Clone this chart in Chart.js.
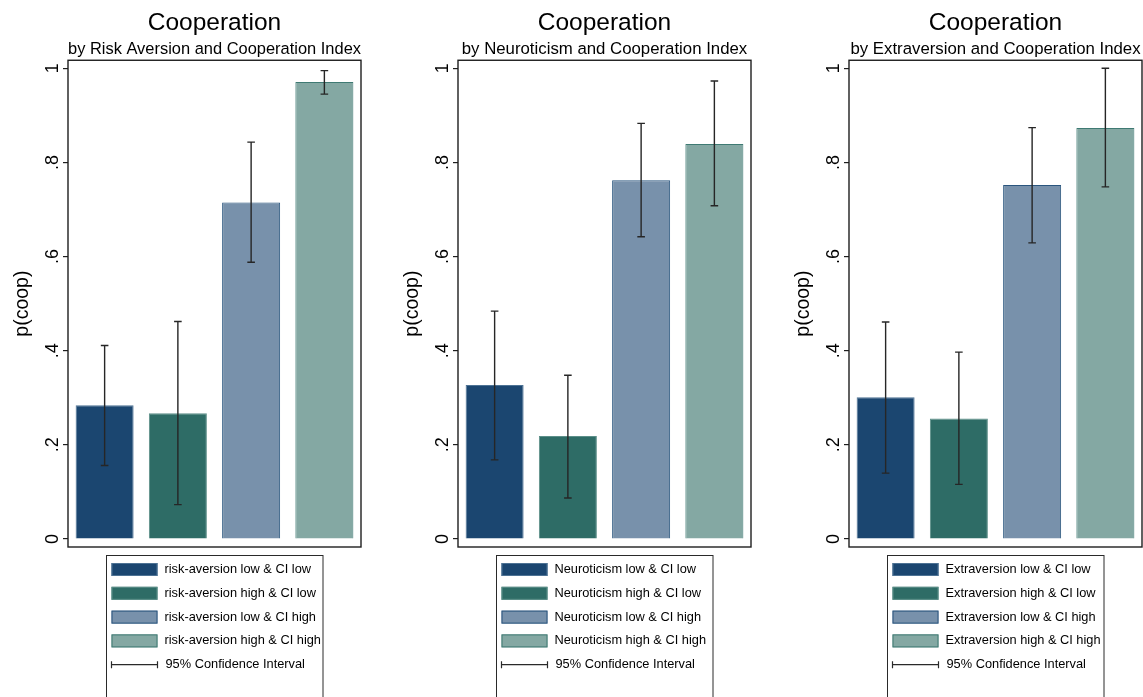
<!DOCTYPE html>
<html>
<head>
<meta charset="utf-8">
<script src="https://cdn.jsdelivr.net/npm/chart.js@4"></script>
<style>
  html, body { margin: 0; padding: 0; background: #fff; overflow: hidden; }
  body { width: 1143px; height: 697px; position: relative; }
  .panel { position: absolute; top: 0; width: 381px; height: 697px; }
  .panel canvas { display: block; }
</style>
</head>
<body>
<div class="panel" style="left:0px"><canvas id="c1" width="381" height="697"></canvas></div>
<div class="panel" style="left:390px"><canvas id="c2" width="381" height="697"></canvas></div>
<div class="panel" style="left:781px"><canvas id="c3" width="381" height="697"></canvas></div>
<script>
// ---- data ----
const tickValues = [0, 0.2, 0.4, 0.6, 0.8, 1];
const tickLabels = ["0", ".2", ".4", ".6", ".8", "1"];

const riskLabels = ["risk-aversion low & CI low", "risk-aversion high & CI low",
                    "risk-aversion low & CI high", "risk-aversion high & CI high"];
const riskMean = [0.284, 0.267, 0.715, 0.971];
const riskLow  = [0.156, 0.073, 0.588, 0.945];
const riskHigh = [0.411, 0.462, 0.843, 0.995];

const neuroLabels = ["Neuroticism low & CI low", "Neuroticism high & CI low",
                     "Neuroticism low & CI high", "Neuroticism high & CI high"];
const neuroMean = [0.327, 0.219, 0.762, 0.839];
const neuroLow  = [0.168, 0.087, 0.642, 0.708];
const neuroHigh = [0.484, 0.348, 0.883, 0.973];

const extraLabels = ["Extraversion low & CI low", "Extraversion high & CI low",
                     "Extraversion low & CI high", "Extraversion high & CI high"];
const extraMean = [0.301, 0.256, 0.752, 0.873];
const extraLow  = [0.140, 0.116, 0.629, 0.748];
const extraHigh = [0.461, 0.397, 0.874, 1.000];

const ciLabel = "95% Confidence Interval";

// ---- styling ----
const FONT = "'Liberation Sans', Arial, Helvetica, sans-serif";
const fills   = ["#1b4670", "#2e6c66", "#7891ab", "#84a8a3"];
const borders = ["#4d7294", "#5c8f89", "#2a557e", "#3f7a73"];

// Box around the plot region
const plotBox = {
  id: 'plotBox',
  afterDraw(chart) {
    const a = chart.chartArea, ctx = chart.ctx;
    ctx.save();
    ctx.strokeStyle = '#1e1e1e';
    ctx.lineWidth = 1.4;
    ctx.strokeRect(a.left, a.top, a.right - a.left, a.bottom - a.top);
    ctx.restore();
  }
};

// Rotated y tick labels
const yTickText = {
  id: 'yTickText',
  afterDraw(chart) {
    const y = chart.scales.y, ctx = chart.ctx;
    ctx.save();
    ctx.fillStyle = '#000';
    ctx.font = `18px ${FONT}`;
    ctx.textAlign = 'center';
    ctx.textBaseline = 'alphabetic';
    tickValues.forEach((v, i) => {
      ctx.save();
      ctx.translate(chart.chartArea.left - 10, y.getPixelForValue(v));
      ctx.rotate(-Math.PI / 2);
      ctx.fillText(tickLabels[i], 0, 0);
      ctx.restore();
    });
    ctx.restore();
  }
};

// Confidence interval whiskers
const ciBars = {
  id: 'ciBars',
  afterDatasetsDraw(chart) {
    const ds = chart.data.datasets[0];
    const meta = chart.getDatasetMeta(0);
    const y = chart.scales.y, ctx = chart.ctx;
    ctx.save();
    ctx.strokeStyle = '#262626';
    ctx.lineWidth = 1.4;
    meta.data.forEach((bar, i) => {
      const yl = y.getPixelForValue(ds.ciLow[i]);
      const yh = y.getPixelForValue(ds.ciHigh[i]);
      const x = bar.x, w = 3.8;
      ctx.beginPath();
      ctx.moveTo(x, yl); ctx.lineTo(x, yh);
      ctx.moveTo(x - w, yl); ctx.lineTo(x + w, yl);
      ctx.moveTo(x - w, yh); ctx.lineTo(x + w, yh);
      ctx.stroke();
    });
    ctx.restore();
  }
};

// Legend box underneath the plot
const legendBox = {
  id: 'legendBox',
  afterDraw(chart) {
    const a = chart.chartArea, ctx = chart.ctx;
    const cx = (a.left + a.right) / 2;
    const left = cx - 108, right = cx + 108.5;
    const top = a.bottom + 8.5;
    const labels = chart.data.labels;
    const ds = chart.data.datasets[0];
    ctx.save();
    ctx.strokeStyle = '#2a2a2a';
    ctx.lineWidth = 1;
    ctx.strokeRect(left, top, right - left, chart.height + 20 - top);
    ctx.font = `12.8px ${FONT}`;
    ctx.textBaseline = 'middle';
    ctx.textAlign = 'left';
    const step = 23.8;
    labels.forEach((lab, i) => {
      const yc = top + 14 + i * step;
      ctx.fillStyle = ds.backgroundColor[i];
      ctx.fillRect(left + 5, yc - 6.5, 46, 13);
      ctx.strokeStyle = ds.borderColor[i];
      ctx.lineWidth = 1;
      ctx.strokeRect(left + 5.5, yc - 6, 45, 12);
      ctx.fillStyle = '#000';
      ctx.fillText(lab, left + 58, yc);
    });
    const yc = top + 14 + labels.length * step;
    ctx.strokeStyle = '#2a2a2a';
    ctx.lineWidth = 1.2;
    ctx.beginPath();
    ctx.moveTo(left + 5, yc); ctx.lineTo(left + 51, yc);
    ctx.moveTo(left + 5, yc - 3.5); ctx.lineTo(left + 5, yc + 3.5);
    ctx.moveTo(left + 51, yc - 3.5); ctx.lineTo(left + 51, yc + 3.5);
    ctx.stroke();
    ctx.fillStyle = '#000';
    ctx.fillText(ciLabel, left + 59, yc);
    ctx.restore();
  }
};

function makePanel(id, subtitle, labels, mean, low, high) {
  new Chart(document.getElementById(id), {
    type: 'bar',
    data: {
      labels: labels,
      datasets: [{
        data: mean,
        ciLow: low,
        ciHigh: high,
        backgroundColor: fills,
        borderColor: borders,
        borderWidth: 1,
        barPercentage: 0.8,
        categoryPercentage: 0.99
      }]
    },
    options: {
      responsive: false,
      animation: false,
      layout: { padding: { left: 0, right: 20, top: 0, bottom: 150 } },
      plugins: {
        legend: { display: false },
        tooltip: { enabled: false },
        title: {
          display: true,
          text: 'Cooperation',
          fullSize: false,
          color: '#000',
          font: { family: FONT, size: 24.5, weight: 'normal', lineHeight: 1.2 },
          padding: { top: 9, bottom: 0 }
        },
        subtitle: {
          display: true,
          text: subtitle,
          fullSize: false,
          color: '#000',
          font: { family: FONT, size: 16.8, weight: 'normal', lineHeight: 1.2 },
          padding: { top: 0.5, bottom: 1.2 }
        }
      },
      scales: {
        x: { display: false },
        y: {
          min: -0.017,
          max: 1.017,
          afterBuildTicks(scale) { scale.ticks = tickValues.map(v => ({ value: v })); },
          afterFit(scale) { scale.width = 68; },
          ticks: { display: false },
          grid: {
            drawOnChartArea: false,
            drawTicks: true,
            tickLength: 5,
            tickColor: '#1e1e1e',
            lineWidth: 1.2
          },
          border: { display: false },
          title: {
            display: true,
            text: 'p(coop)',
            color: '#000',
            font: { family: FONT, size: 19.5, weight: 'normal', lineHeight: 1.2 },
            padding: { top: 11, bottom: 0 }
          }
        }
      }
    },
    plugins: [ciBars, plotBox, yTickText, legendBox]
  });
}

makePanel('c1', 'by Risk Aversion and Cooperation Index', riskLabels, riskMean, riskLow, riskHigh);
makePanel('c2', 'by Neuroticism and Cooperation Index', neuroLabels, neuroMean, neuroLow, neuroHigh);
makePanel('c3', 'by Extraversion and Cooperation Index', extraLabels, extraMean, extraLow, extraHigh);
</script>
</body>
</html>
